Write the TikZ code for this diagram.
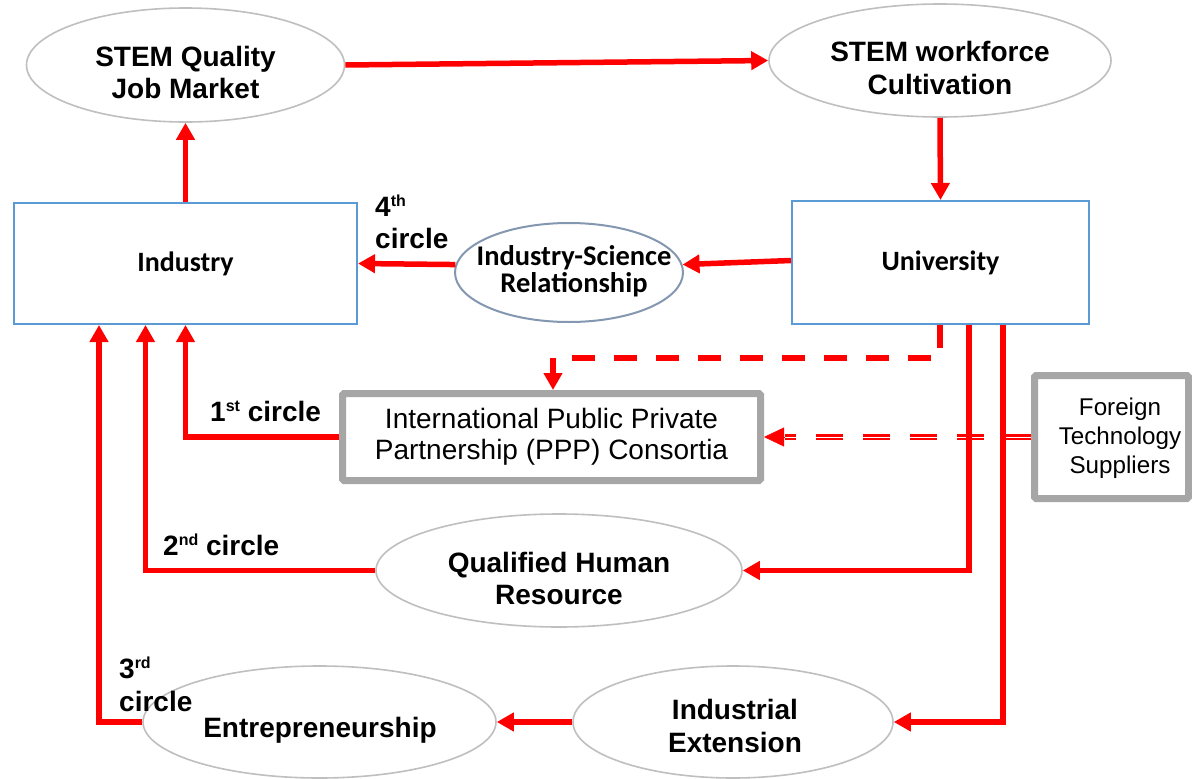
\documentclass[tikz,border=0pt]{standalone}
\usepackage{fontspec}
\setmainfont{Liberation Sans}
\newfontfamily\calib{Carlito}
\usetikzlibrary{shapes.geometric,arrows.meta,calc}
\definecolor{ellgray}{HTML}{BFBFBF}
\definecolor{boxblue}{HTML}{5B9BD5}
\definecolor{isrblue}{HTML}{8497B0}
\definecolor{pppgray}{HTML}{A6A6A6}
\newcommand\supx[1]{\raisebox{9.5pt}{\fontsize{16}{16}\selectfont #1}}
\begin{document}
\begin{tikzpicture}[x=1pt,y=-1pt,
  ell/.style={ellipse, draw=ellgray, line width=1.6pt, inner sep=0pt},
  etxt/.style={align=center, inner sep=0pt, font=\fontsize{28}{32.5}\selectfont\bfseries},
  bluebox/.style={rectangle, draw=boxblue, line width=2pt, inner sep=0pt, font=\calib\fontsize{28}{30}\selectfont\bfseries},
  graybox/.style={rectangle, draw=pppgray, line width=7pt, rounded corners=1.5pt, inner sep=0pt, align=center},
  conn/.style={draw=red, line width=5.5pt},
  arr/.style={conn, -{Triangle[length=17pt,width=18pt]}},
  lbl/.style={inner sep=0pt, align=left, font=\fontsize{28}{32.5}\selectfont\bfseries},
  dsh/.style={draw=red, line width=5.5pt, dash pattern=on 23pt off 19pt},
  dbl/.style={draw=red, line width=2.2pt, double=white, double distance=0.8pt, dash pattern=on 27pt off 20pt},
]
\fill[white] (0,0) rectangle (1192,779);
\useasboundingbox (0,0) rectangle (1192,779);

% ellipses
\node[ell, minimum width=318pt, minimum height=114pt] (sqjm) at (185.5,65) {};
\node[etxt] (sqjm-t) at (185.5,72.5) {STEM Quality\\Job Market};
\node[ell, minimum width=342pt, minimum height=113pt] (swc) at (940,60.5) {};
\node[etxt] (swc-t) at (940,68) {STEM workforce\\Cultivation};
\node[ellipse, draw=isrblue, line width=2pt, inner sep=0pt, minimum width=228pt, minimum height=99pt] (isr) at (569,272.5) {};
\node[align=center, inner sep=0pt, font=\calib\fontsize{28.5}{27}\selectfont\bfseries] (isr-t) at (574,271.5) {Industry-Science\\Relationship};
\node[ell, minimum width=366pt, minimum height=113pt] (qhr) at (559,570.5) {};
\node[etxt] (qhr-t) at (559,578.5) {Qualified Human\\Resource};
\node[ell, minimum width=320pt, minimum height=112pt] (ie) at (733,722) {};
\node[etxt] (ie-t) at (735,726) {Industrial\\Extension};
\node[ell, minimum width=353pt, minimum height=112pt] (ent) at (319.5,722) {};
\node[etxt] (ent-t) at (320,730) {Entrepreneurship};

% boxes
\node[bluebox, minimum width=343pt, minimum height=121pt] (ind) at (185.5,263.5) {Industry};
\node[bluebox, minimum width=297pt, minimum height=123pt] (univ) at (940.5,262.5) {University};
\node[graybox, minimum width=418pt, minimum height=87pt, font=\fontsize{28}{31}\selectfont] (ppp) at (551.5,437) {International Public Private\\Partnership (PPP) Consortia};
\node[graybox, minimum width=154pt, minimum height=123pt] (fts) at (1111.5,437) {};
\node[align=center, inner sep=0pt, font=\fontsize{24.2}{29}\selectfont] (fts-t) at (1120,438) {Foreign\\Technology\\Suppliers};

% labels
\node[lbl, anchor=north west] (l4) at (375,195) {4\supx{th}\\circle};
\node[lbl, anchor=base west] (l1) at (210,421) {1\supx{st} circle};
\node[lbl, anchor=base west] (l2) at (163,555) {2\supx{nd} circle};
\node[lbl, anchor=north west, font=\fontsize{28}{33}\selectfont\bfseries] (l3) at (119,657) {3\supx{rd}\\circle};

% helper coordinates
\coordinate (c1) at (553,358);
\coordinate (q1) at (969,0);
\coordinate (e1) at (1003,0);
\coordinate (c2) at ($(ppp.east)+(21,0)$);

% connectors
\draw[arr] (sqjm.east) -- (swc.west);
\draw[arr] (swc.south) -- (univ.north);
\draw[arr] (ind.north) -- (sqjm.south);
\draw[arr] ($(univ.west)+(0,-2)$) -- (isr.4);
\draw[arr] (isr.176) -- (ind.east);
\draw[dsh] (univ.south -| swc.south) |- (c1);
\draw[arr] (c1) -- (c1 |- ppp.north);
\draw[dbl] (fts.west) -- (c2);
\draw[red, line width=0.5pt, -{Triangle[length=20pt,width=19pt]}] (c2) -- (ppp.east);
\draw[arr] (univ.south -| q1) |- (qhr.east);
\draw[arr] (univ.south -| e1) |- (ie.east);
\draw[arr] (ie.west) -- (ent.east);
\draw[arr] (ppp.west) -| (ind.south);
\draw[arr] (qhr.west) -| ($(ind.south)+(-40,0)$);
\draw[arr] (ent.west) -| ($(ind.south)+(-86.5,0)$);
\end{tikzpicture}
\end{document}
